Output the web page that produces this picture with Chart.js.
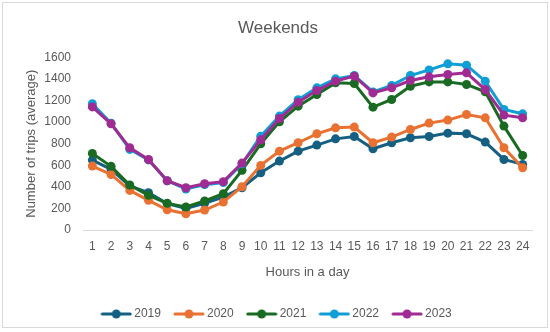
<!DOCTYPE html>
<html>
<head>
<meta charset="utf-8">
<script src="https://cdn.jsdelivr.net/npm/chart.js@4/dist/chart.umd.min.js"></script>
<style>
  html, body { margin: 0; padding: 0; background: #ffffff; }
  #wrap { position: relative; width: 550px; height: 332px; }
</style>
</head>
<body>
<div id="wrap"><canvas id="c" width="550" height="332"></canvas></div>
<script>
const hours = ["1","2","3","4","5","6","7","8","9","10","11","12","13","14","15","16","17","18","19","20","21","22","23","24"];
const y2019 = [648, 562, 408, 346, 245, 200, 247, 306, 392, 531, 639, 731, 787, 845, 867, 753, 809, 855, 867, 898, 892, 815, 654, 608];
const y2020 = [593, 515, 367, 275, 188, 151, 185, 259, 401, 599, 731, 809, 892, 947, 954, 809, 861, 932, 991, 1019, 1071, 1040, 762, 577];
const y2021 = [710, 590, 417, 321, 247, 213, 269, 336, 553, 799, 1003, 1148, 1256, 1364, 1358, 1139, 1210, 1333, 1373, 1373, 1349, 1281, 963, 691];
const y2022 = [1170, 990, 747, 650, 457, 380, 420, 440, 614, 870, 1056, 1207, 1318, 1401, 1432, 1280, 1340, 1432, 1484, 1540, 1528, 1380, 1117, 1077];
const y2023 = [1141, 984, 762, 654, 457, 392, 429, 448, 620, 836, 1034, 1185, 1293, 1380, 1426, 1271, 1318, 1386, 1420, 1441, 1457, 1302, 1065, 1040];
const seriesNames = ["2019", "2020", "2021", "2022", "2023"];
const seriesData = [y2019, y2020, y2021, y2022, y2023];
const colors = ["#156082", "#E97132", "#196B24", "#0F9ED5", "#A02B93"];

const FONT = "'Liberation Sans', Arial, sans-serif";
const GREY = "#595959";

function legendIcon(color) {
  const c = document.createElement('canvas');
  c.width = 32; c.height = 10;
  const g = c.getContext('2d');
  g.strokeStyle = color; g.lineWidth = 3; g.lineCap = 'round';
  g.beginPath(); g.moveTo(2, 5); g.lineTo(30, 5); g.stroke();
  g.fillStyle = color;
  g.beginPath(); g.arc(16, 5, 4.5, 0, Math.PI * 2); g.fill();
  return c;
}

const borderPlugin = {
  id: 'outerBorder',
  beforeDraw(chart) {
    const ctx = chart.ctx;
    ctx.save();
    ctx.fillStyle = '#ffffff';
    ctx.fillRect(0, 0, chart.width, chart.height);
    ctx.strokeStyle = '#d9d9d9';
    ctx.lineWidth = 1;
    ctx.strokeRect(2.5, 2.5, 545, 325);
    ctx.restore();
  }
};

const datasets = seriesNames.map((name, i) => ({
  label: name,
  data: seriesData[i],
  borderColor: colors[i],
  backgroundColor: colors[i],
  borderWidth: 3,
  pointRadius: 4.5,
  pointHoverRadius: 4.5,
  pointBorderWidth: 0,
  pointBackgroundColor: colors[i],
  tension: 0,
  order: 4 - i
}));

new Chart(document.getElementById('c'), {
  type: 'line',
  data: { labels: hours, datasets },
  plugins: [borderPlugin],
  options: {
    responsive: false,
    animation: false,
    devicePixelRatio: 1,
    layout: { padding: { left: 24, right: 18, top: 6, bottom: 2 } },
    plugins: {
      title: {
        display: true,
        text: 'Weekends',
        color: GREY,
        font: { family: FONT, size: 17, weight: 'normal' },
        padding: { top: 12, bottom: 19 }
      },
      legend: {
        position: 'bottom',
        labels: {
          color: GREY,
          font: { family: FONT, size: 12 },
          usePointStyle: true,
          pointStyleWidth: 24,
          padding: 16,
          sort: (a, b) => a.datasetIndex - b.datasetIndex,
          generateLabels(chart) {
            return chart.data.datasets.map((ds, i) => ({
              text: ds.label,
              fillStyle: ds.borderColor,
              strokeStyle: ds.borderColor,
              lineWidth: 0,
              pointStyle: legendIcon(ds.borderColor),
              datasetIndex: i,
              fontColor: GREY,
              hidden: false
            }));
          }
        }
      },
      tooltip: { enabled: false }
    },
    scales: {
      x: {
        offset: true,
        grid: { display: false, drawTicks: false },
        border: { display: true, color: '#d9d9d9', width: 1 },
        ticks: { color: GREY, font: { family: FONT, size: 12 }, padding: 9, maxRotation: 0, autoSkip: false },
        title: {
          display: true,
          text: 'Hours in a day',
          color: GREY,
          font: { family: FONT, size: 13 },
          padding: { top: 2, bottom: 12 }
        }
      },
      y: {
        min: 0,
        max: 1600,
        grid: { display: false, drawTicks: false },
        border: { display: false },
        afterFit(scale) { scale.width = 59; },
        ticks: {
          stepSize: 200,
          color: GREY,
          font: { family: FONT, size: 12 },
          padding: 12,
          callback: (v) => String(v)
        },
        title: {
          display: true,
          text: 'Number of trips (average)',
          color: GREY,
          font: { family: FONT, size: 13 },
          padding: { top: 0, bottom: 4 }
        }
      }
    }
  }
});
</script>
</body>
</html>
